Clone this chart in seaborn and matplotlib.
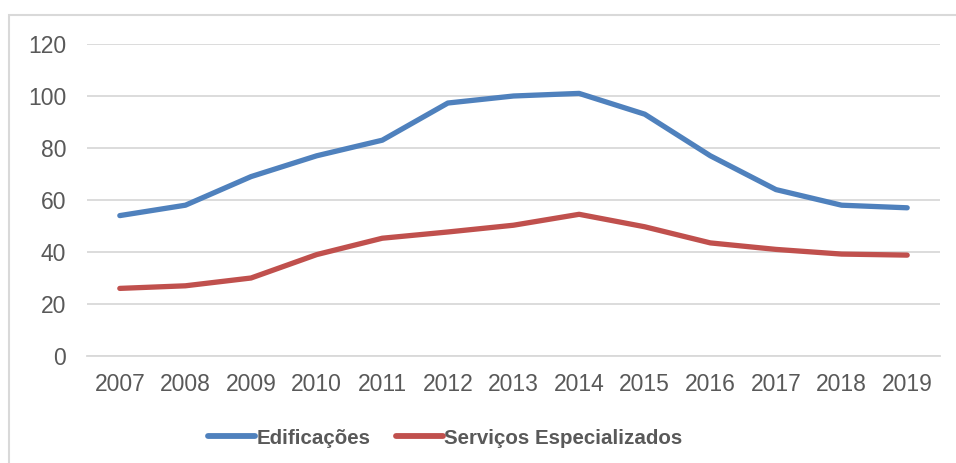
import pandas as pd
import matplotlib
matplotlib.use('Agg')
import matplotlib.pyplot as plt
import seaborn as sns
from matplotlib.patches import Rectangle

# Dados
anos = ['2007', '2008', '2009', '2010', '2011', '2012', '2013',
        '2014', '2015', '2016', '2017', '2018', '2019']
edificacoes = [54, 58, 69, 77, 83, 97.3, 100, 101, 93, 77, 64, 58, 57]
servicos = [26, 27, 30, 39, 45.3, 47.7, 50.3, 54.5, 49.7, 43.5, 41, 39.2, 38.8]
yticks = [0, 20, 40, 60, 80, 100, 120]

df = pd.DataFrame({'Ano': anos * 2,
                   'Valor': edificacoes + servicos,
                   'Série': ['Edificações'] * len(anos) + ['Serviços Especializados'] * len(anos)})

sns.set_style('white')
plt.rcParams['font.family'] = ['Liberation Sans', 'DejaVu Sans']

fig = plt.figure(figsize=(9.56, 4.63), dpi=100)
ax = fig.add_axes([87 / 956, 1 - 356 / 463, (940 - 87) / 956, (356 - 44) / 463])

# moldura do gráfico
fig.patches.append(Rectangle((9 / 956, -0.1), 1.1, 1 - 15 / 463 + 0.1,
                             transform=fig.transFigure, fill=False,
                             edgecolor='#d9d9d9', linewidth=1.5))

sns.lineplot(data=df, x='Ano', y='Valor', hue='Série', ax=ax,
             palette=['#4F81BD', '#C0504D'], linewidth=3.8, sort=False,
             solid_capstyle='round')

ax.set_xlim(-0.5, len(anos) - 0.5)
ax.set_ylim(0, 120)
ax.set_yticks(yticks)
ax.yaxis.grid(True, color='#d9d9d9', linewidth=1.3)
ax.set_axisbelow(True)
for s in ax.spines.values():
    s.set_visible(False)
ax.spines['bottom'].set_visible(True)
ax.spines['bottom'].set_color('#d9d9d9')
ax.spines['bottom'].set_linewidth(1.3)
ax.set_xlabel('')
ax.set_ylabel('')
ax.tick_params(axis='both', length=0, labelsize=16.5, colors='#595959')
ax.tick_params(axis='y', pad=15)
ax.tick_params(axis='x', pad=12)

leg = ax.legend(loc='center', bbox_to_anchor=(0.42, -0.263), ncol=2, frameon=False,
                handlelength=2.3, handletextpad=0.05, columnspacing=1.25,
                prop={'weight': 'bold', 'size': 14.8})
for t in leg.get_texts():
    t.set_color('#595959')
for h in leg.get_lines():
    h.set_linewidth(4.2)

fig.savefig('out.png', dpi=100)
